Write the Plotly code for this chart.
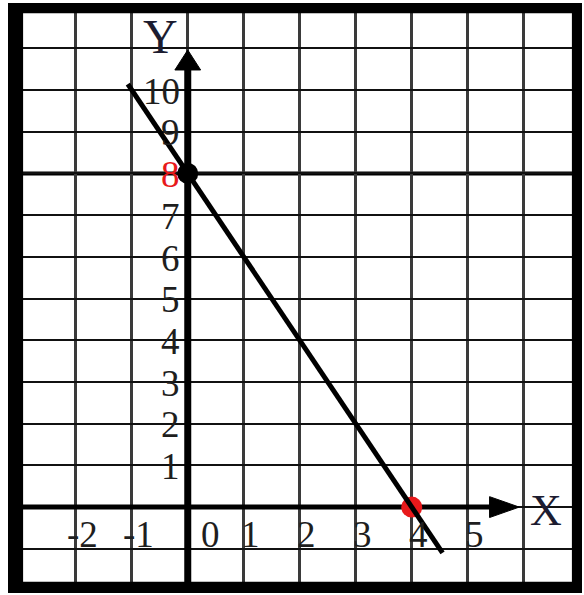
import plotly.graph_objects as go

# ---- data ----
x_ticks = [-2, -1, 0, 1, 2, 3, 4, 5]
x_tick_labels = ["-2", "-1", "0", "1", "2", "3", "4", "5"]
y_ticks = [10, 9, 8, 7, 6, 5, 4, 3, 2, 1]
y_tick_labels = ["10", "9", "8", "7", "6", "5", "4", "3", "2", "1"]
line_x = [-1.07, 4.55]
line_y = [10.14, -1.1]
y_intercept = [0, 8]
x_intercept = [4, 0]

# ---- view ----
X_MIN, X_MAX = -2.96, 6.88
Y_MIN, Y_MAX = -1.82, 11.87
Y_ARROW_BASE, Y_ARROW_TIP = 10.48, 10.96
X_ARROW_BASE, X_ARROW_TIP = 5.39, 5.92

RED = "#e8191b"
FONT = "Liberation Serif"
TXT = "#1e1e1e"

fig = go.Figure()

# axes (thick lines)
fig.add_trace(go.Scatter(x=[0, 0], y=[Y_MIN, Y_ARROW_BASE + 0.05], mode="lines",
                         line=dict(color="black", width=7), hoverinfo="skip"))
fig.add_trace(go.Scatter(x=[X_MIN, X_ARROW_BASE + 0.05], y=[0, 0], mode="lines",
                         line=dict(color="black", width=5), hoverinfo="skip"))

# intercept points
fig.add_trace(go.Scatter(x=[y_intercept[0]], y=[y_intercept[1]], mode="markers",
                         marker=dict(color="black", size=21), hoverinfo="skip"))
fig.add_trace(go.Scatter(x=[x_intercept[0]], y=[x_intercept[1]], mode="markers",
                         marker=dict(color=RED, size=21), hoverinfo="skip"))

# the graph line
fig.add_trace(go.Scatter(x=line_x, y=line_y, mode="lines",
                         line=dict(color="black", width=5), hoverinfo="skip"))

shapes = []
# thicker horizontal line at y = 8
shapes.append(dict(type="line", xref="paper", yref="y", x0=0, x1=1, y0=8, y1=8,
                   line=dict(color="black", width=4), layer="below"))
# arrow heads
hw_x = 0.23
hw_y = 0.25
shapes.append(dict(type="path", xref="x", yref="y",
                   path=f"M {-hw_x},{Y_ARROW_BASE} L {hw_x},{Y_ARROW_BASE} L 0,{Y_ARROW_TIP} Z",
                   fillcolor="black", line=dict(color="black", width=1)))
shapes.append(dict(type="path", xref="x", yref="y",
                   path=f"M {X_ARROW_BASE},{-hw_y} L {X_ARROW_BASE},{hw_y} L {X_ARROW_TIP},0 Z",
                   fillcolor="black", line=dict(color="black", width=1)))
# thick outer frame
pw, ph = 584 - 22 - 11, 595 - 12 - 12
shapes += [
    dict(type="rect", xref="paper", yref="paper", x0=-14 / pw, x1=0.002, y0=-10 / ph, y1=1 + 9 / ph,
         fillcolor="black", line=dict(width=0)),
    dict(type="rect", xref="paper", yref="paper", x0=0.998, x1=1 + 9 / pw, y0=-10 / ph, y1=1 + 9 / ph,
         fillcolor="black", line=dict(width=0)),
    dict(type="rect", xref="paper", yref="paper", x0=-14 / pw, x1=1 + 9 / pw, y0=1 - 0.002, y1=1 + 9 / ph,
         fillcolor="black", line=dict(width=0)),
    dict(type="rect", xref="paper", yref="paper", x0=-14 / pw, x1=1 + 9 / pw, y0=-10 / ph, y1=0.002,
         fillcolor="black", line=dict(width=0)),
]

annotations = []
for v, t in zip(y_ticks, y_tick_labels):
    annotations.append(dict(x=-0.1, y=v - 0.03, xref="x", yref="y", text=t, showarrow=False,
                            xanchor="right", yanchor="middle",
                            font=dict(family=FONT, size=37, color=RED if v == 8 else TXT)))
for v, t in zip(x_ticks, x_tick_labels):
    annotations.append(dict(x=v + (0.4 if v == 0 else 0.12), y=-0.66, xref="x", yref="y", text=t,
                            showarrow=False, xanchor="center", yanchor="middle",
                            font=dict(family=FONT, size=37, color=TXT)))
annotations.append(dict(x=-0.48, y=11.28, xref="x", yref="y", text="Y", showarrow=False,
                        xanchor="center", yanchor="middle",
                        font=dict(family=FONT, size=48, color="#1c1c30")))
annotations.append(dict(x=6.4, y=-0.08, xref="x", yref="y", text="X", showarrow=False,
                        xanchor="center", yanchor="middle",
                        font=dict(family=FONT, size=44, color="#1c1c30")))

fig.update_layout(
    width=584, height=595,
    margin=dict(l=22, r=11, t=12, b=12),
    paper_bgcolor="white", plot_bgcolor="white",
    showlegend=False,
    shapes=shapes, annotations=annotations,
    xaxis=dict(range=[X_MIN, X_MAX], dtick=1, tick0=0, showgrid=True, gridcolor="#3a3a3a",
               gridwidth=3, zeroline=False, showticklabels=False, ticks="", fixedrange=True),
    yaxis=dict(range=[Y_MIN, Y_MAX], dtick=1, tick0=0, showgrid=True, gridcolor="#111111",
               gridwidth=2, zeroline=False, showticklabels=False, ticks="", fixedrange=True),
)

fig.write_html("out.html", config={"displayModeBar": False},
               post_script="document.body.style.margin='0';document.body.style.overflow='hidden';")
